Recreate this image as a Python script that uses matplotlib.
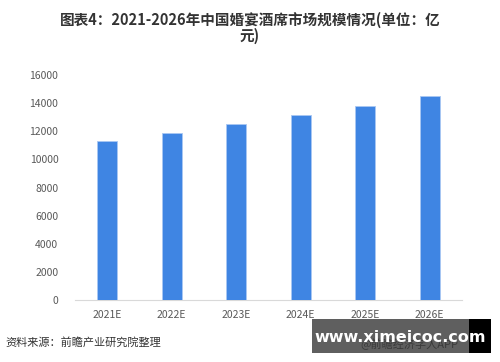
import matplotlib
matplotlib.use("Agg")
import matplotlib.pyplot as plt
from matplotlib.patches import Rectangle

plt.rcParams['font.family'] = ['Noto Sans CJK SC', 'DejaVu Sans']

categories = ["2021E", "2022E", "2023E", "2024E", "2025E", "2026E"]
values = [11300, 11900, 12500, 13160, 13800, 14490]
yticks = [0, 2000, 4000, 6000, 8000, 10000, 12000, 14000, 16000]
title = "图表4：2021-2026年中国婚宴酒席市场规模情况(单位：亿\n元)"
source = "资料来源：前瞻产业研究院整理"
watermark = "www.ximeicoc.com"
credit = "@前瞻经济学人APP"

W, H = 500, 362
fig = plt.figure(figsize=(W / 100, H / 100), dpi=100)
ax = fig.add_axes([75 / W, 1 - 300 / H, (462 - 75) / W, (300 - 75) / H])

x = list(range(len(categories)))
ax.bar(x, values, width=0.31, color="#3f85e3", edgecolor="#a9c8f3", linewidth=0.6, zorder=3)
ax.set_xlim(-0.5, 5.5)
ax.set_ylim(0, 16000)
ax.set_yticks(yticks)
ax.set_yticklabels([str(v) for v in yticks], fontsize=7.5, color="#595959")
ax.set_xticks(x)
ax.set_xticklabels(categories, fontsize=7.5, color="#595959")
for s in ["top", "right", "left"]:
    ax.spines[s].set_visible(False)
ax.spines["bottom"].set_color("#d9d9d9")
ax.tick_params(axis="both", length=0, pad=12)
ax.tick_params(axis="x", pad=7)

fig.text(0.5, 1 - 28 / H, title, ha="center", va="center", fontsize=10.5,
         fontweight="bold", color="#333333", linespacing=0.95)
fig.text(5 / W, 1 - 342 / H, source, ha="left", va="center", fontsize=8, color="#333333")

fig.patches.append(Rectangle((312 / W, 1 - 353 / H), 157 / W, 34 / H,
                             transform=fig.transFigure, facecolor="#5f5f5f",
                             edgecolor="none", zorder=5))
fig.patches.append(Rectangle((469 / W, 1 - 353 / H), 22 / W, 34 / H,
                             transform=fig.transFigure, facecolor="#000000",
                             edgecolor="none", zorder=5))
fig.text(360 / W, 1 - 344 / H, credit, ha="left", va="center", fontsize=8,
         color="#3a3a3a", zorder=5.5)
fig.text(400 / W, 1 - 337 / H, watermark, ha="center", va="center", fontsize=11.5,
         fontweight="bold", color="white", family="DejaVu Sans", zorder=6)

fig.savefig("out.png", dpi=100)
